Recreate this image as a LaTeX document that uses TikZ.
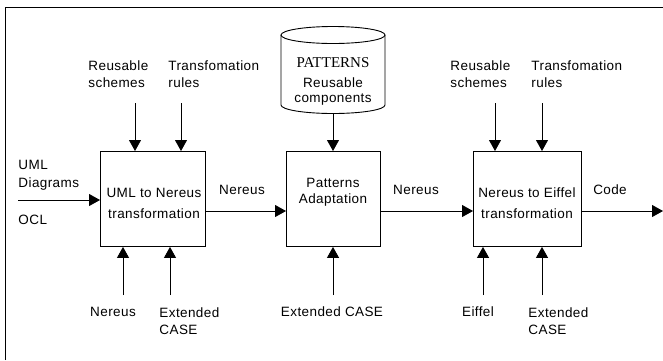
\documentclass[tikz,border=0pt]{standalone}
\usepackage{fontspec}
\setmainfont[LetterSpace=3]{Liberation Sans}
\newfontfamily\patfont{Liberation Serif}
\usetikzlibrary{arrows.meta}
\begin{document}
\begin{tikzpicture}[x=1pt,y=-1pt,
  line width=0.9pt,
  arr/.style={-{Triangle[length=11pt,width=12pt]}},
  box/.style={draw,rectangle,inner sep=0pt,anchor=north west},
  lbl/.style={font=\fontsize{13.5}{17.5}\selectfont,inner sep=0pt,align=left},
  clbl/.style={font=\fontsize{13.5}{17.5}\selectfont,inner sep=0pt,align=center},
  btxt/.style={font=\fontsize{13.5}{21}\selectfont,inner sep=0pt,align=center},
  btxtb/.style={font=\fontsize{13.5}{16.5}\selectfont,inner sep=0pt,align=center}]
\useasboundingbox (0,0) rectangle (663,360);
% frame
\draw (5,360) -- (5,7) -- (663,7);
% boxes
\node[box,minimum width=105pt,minimum height=95pt] (b1) at (100,151) {};
\node[box,minimum width=94pt,minimum height=95pt] (b2) at (286,151) {};
\node[box,minimum width=108pt,minimum height=95pt] (b3) at (473,151) {};
\node[btxt] (t1) at (154,203) {UML to Nereus\\transformation};
\node[btxtb] (t2) at (333,192) {Patterns\\Adaptation};
\node[btxt] (t3) at (527,203) {Nereus to Eiffel\\transformation};
% cylinder
\draw (281,35) -- (281,105) arc[start angle=180,end angle=0,x radius=52,y radius=8.5] -- (385,35);
\draw (333,35) ellipse [x radius=52,y radius=8.5];
\node[inner sep=0pt,anchor=base,font=\patfont\fontsize{15}{18}\selectfont] (pat) at (333,67) {PATTERNS};
\node[inner sep=0pt,anchor=base,font=\fontsize{13.5}{16}\selectfont] (pat2) at (333,87) {Reusable};
\node[inner sep=0pt,anchor=base,font=\fontsize{13.5}{16}\selectfont] (pat3) at (333,102) {components};
\coordinate (patb) at (333,114);
% top labels
\node[lbl,anchor=west] (rs1) at (88,74) {Reusable\\schemes};
\node[lbl,anchor=west] (tr1) at (168,74) {Transfomation\\rules};
\node[lbl,anchor=west] (rs3) at (450,74) {Reusable\\schemes};
\node[lbl,anchor=west] (tr3) at (531,74) {Transfomation\\rules};
\coordinate (a1) at (135,103);
\coordinate (a2) at (181,103);
\coordinate (a3) at (495,103);
\coordinate (a4) at (542,103);
\draw[arr] (a1) -- (a1 |- b1.north);
\draw[arr] (a2) -- (a2 |- b1.north);
\draw[arr] (patb) -- (patb |- b2.north);
\draw[arr] (a3) -- (a3 |- b3.north);
\draw[arr] (a4) -- (a4 |- b3.north);
% bottom labels
\node[clbl] (nb) at (113,312) {Nereus};
\node[lbl,anchor=west] (ec1) at (159,321) {Extended\\CASE};
\node[clbl] (ec2) at (332,312) {Extended CASE};
\node[clbl] (ei) at (478,312) {Eiffel};
\node[lbl,anchor=west] (ec3) at (528,321) {Extended\\CASE};
\coordinate (c1) at (123,295);
\coordinate (c2) at (170,295);
\coordinate (c3) at (333,295);
\coordinate (c4) at (483,295);
\coordinate (c5) at (542,295);
\draw[arr] (c1) -- (c1 |- b1.south);
\draw[arr] (c2) -- (c2 |- b1.south);
\draw[arr] (c3) -- (c3 |- b2.south);
\draw[arr] (c4) -- (c4 |- b3.south);
\draw[arr] (c5) -- (c5 |- b3.south);
% left inputs
\node[lbl,anchor=west] (uml) at (18,175) {UML\\Diagrams};
\node[lbl,anchor=west] (ocl) at (18,220) {OCL};
\coordinate (in) at (18,200);
\draw[arr] (in) -- (in -| b1.west);
% flows
\coordinate (f1) at (0,211);
\draw[arr] (f1 -| b1.east) -- (f1 -| b2.west);
\draw[arr] (f1 -| b2.east) -- (f1 -| b3.west);
\coordinate (out) at (663,211);
\draw[arr] (f1 -| b3.east) -- (out);
\node[clbl] (n1) at (242,190) {Nereus};
\node[clbl] (n2) at (416,190) {Nereus};
\node[clbl] (code) at (610,190) {Code};
\end{tikzpicture}
\end{document}
